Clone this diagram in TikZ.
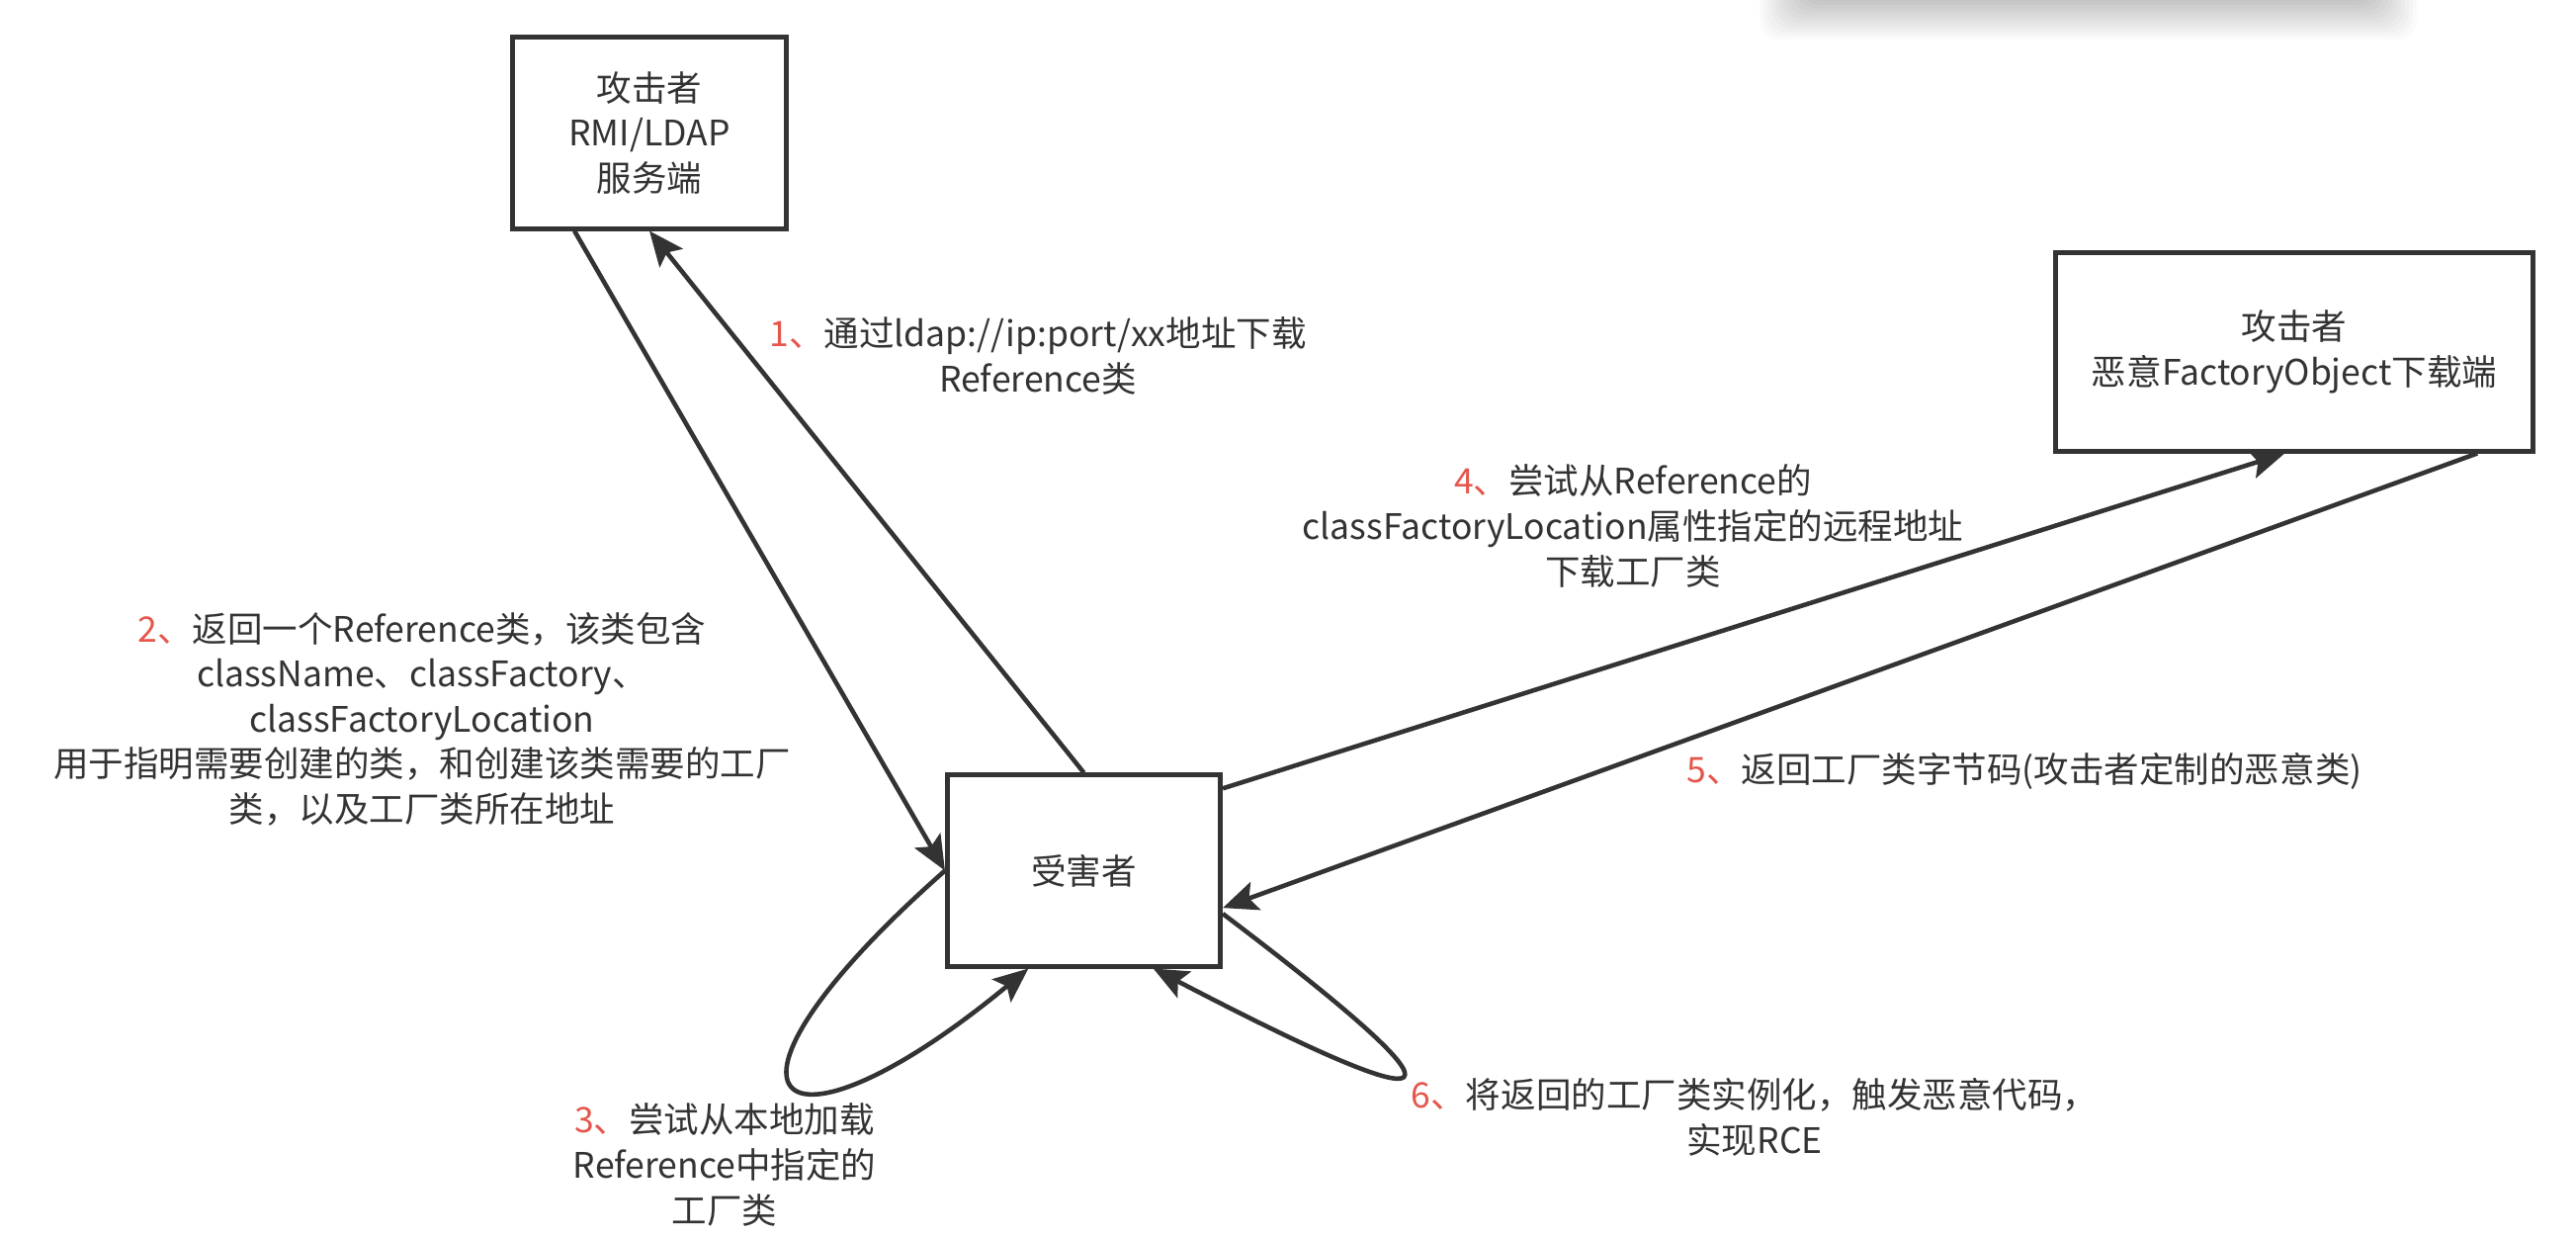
\documentclass[tikz,border=0pt]{standalone}
\usepackage{fontspec}
\setmainfont{Noto Sans CJK SC}
\usetikzlibrary{arrows.meta,positioning,calc}
\definecolor{ink}{HTML}{333333}
\definecolor{stepred}{HTML}{E5574D}
\newcommand{\stepno}[1]{\textcolor{stepred}{#1、}}
\tikzset{>={Stealth[length=10pt,width=8.5pt,inset=2pt]},
         every node/.style={font=\fontsize{10.1pt}{12.95pt}\selectfont,text=ink},
         actor/.style={draw=ink,line width=1.4pt,minimum width=2.76cm,
                       minimum height=1.93cm,align=center,inner sep=0pt},
         note/.style={align=center,inner sep=0pt},
         flow/.style={draw=ink,line width=1.3pt,->}}

\begin{document}
\begin{tikzpicture}[x=0.01cm,y=-0.01cm]
  \fill[white] (0,0) rectangle (2606,1252);
  \useasboundingbox (0,0) rectangle (2606,1252);
  \begin{scope}
    \clip (0,0) rectangle (2606,1252);
    \foreach \i in {0,...,11}
      \fill[black,opacity=0.019,rounded corners=6pt]
        (1780+\i*4,-60) rectangle (2445-\i*4,40-\i*3.5);
  \end{scope}
  \node[actor] (server) at (657,134.5) {攻击者\\RMI/LDAP\\服务端};
  \node[actor] (victim) at (1096.5,880.5) {受害者};
  \node[actor,minimum width=4.82cm,minimum height=2cm] (factory) at (2321,356)
       {攻击者\\恶意FactoryObject下载端};
  \path (victim.north) edge[flow] (server.south)
        ($(server.south west)!.23!(server.south east)$) edge[flow] (victim.west)
        ($(victim.north east)!.08!(victim.south east)$) edge[flow]
        ($(factory.south west)!.48!(factory.south east)$)
        ($(factory.south west)!.88!(factory.south east)$) edge[flow]
        ($(victim.north east)!.69!(victim.south east)$);
  \draw[flow] (victim.west) .. controls (690,1115) and (785,1190) ..
        ($(victim.south west)!.3!(victim.south east)$);
  \draw[flow] ($(victim.north east)!.72!(victim.south east)$)
        .. controls (1507,1128) and (1471,1138) ..
        ($(victim.south west)!.75!(victim.south east)$);
  \node[note] (step1) at (1050,360) {\stepno{1}通过ldap://ip:port/xx地址下载\\Reference类};
  \node[note] (step2) at (427,727) {\stepno{2}返回一个Reference类，该类包含\\className、classFactory、\\classFactoryLocation\\用于指明需要创建的类，和创建该类需要的工厂\\类，以及工厂类所在地址};
  \node[note] (step3) at (733,1178) {\stepno{3}尝试从本地加载\\Reference中指定的\\工厂类};
  \node[note] (step4) at (1652,532) {\stepno{4}尝试从Reference的\\classFactoryLocation属性指定的远程地址\\下载工厂类};
  \node[note] (step5) at (2048,780) {\stepno{5}返回工厂类字节码(攻击者定制的恶意类)};
  \node[note] (step6) at (1775,1130) {\stepno{6}将返回的工厂类实例化，触发恶意代码，\\实现RCE};
\end{tikzpicture}
\end{document}
